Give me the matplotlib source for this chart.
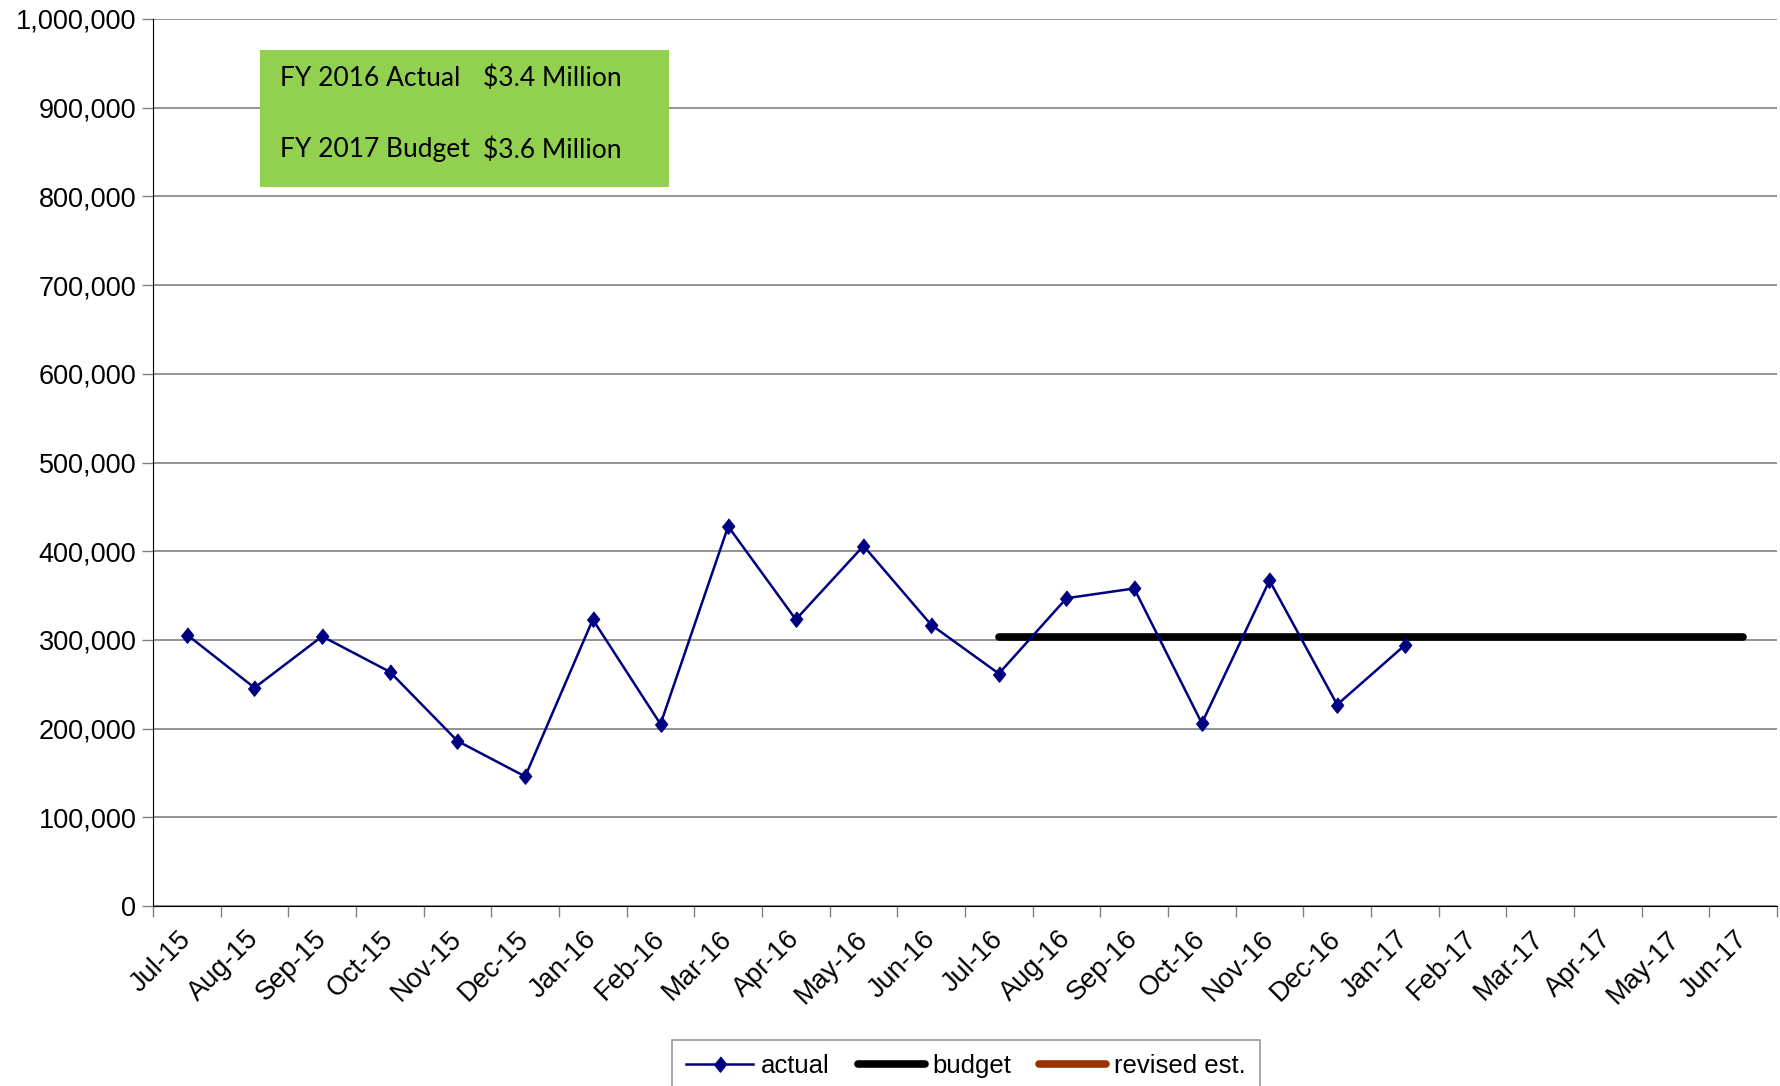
import matplotlib
matplotlib.use("Agg")
import matplotlib.pyplot as plt
import numpy as np

months = ["Jul-15", "Aug-15", "Sep-15", "Oct-15", "Nov-15", "Dec-15",
          "Jan-16", "Feb-16", "Mar-16", "Apr-16", "May-16", "Jun-16",
          "Jul-16", "Aug-16", "Sep-16", "Oct-16", "Nov-16", "Dec-16",
          "Jan-17", "Feb-17", "Mar-17", "Apr-17", "May-17", "Jun-17"]
actual = [306000, 246000, 304000, 264000, 186000, 146000,
          323000, 205000, 428000, 323000, 406000, 317000,
          262000, 347000, 358000, 206000, 367000, 227000,
          294000]
budget_start = 12
budget = [303000] * 12
revised = []

plt.rcParams['font.family'] = ['Liberation Sans', 'DejaVu Sans']

fig = plt.figure(figsize=(17.8, 10.86), dpi=100)
ax = fig.add_axes([153/1780, 1-906/1086, (1777-153)/1780, (906-19)/1086])

x = np.arange(len(months))
ax.plot(x[:len(actual)], actual, color='#000080', lw=1.8,
        marker=[(0, 1), (0.8, 0), (0, -1), (-0.8, 0)], markersize=11,
        label='actual', zorder=4)
ax.plot(x[budget_start:budget_start+len(budget)], budget, color='black', lw=5.5,
        solid_capstyle='round', label='budget', zorder=3)
ax.plot(x[:len(revised)], revised, color='#993300', lw=5.5,
        solid_capstyle='round', label='revised est.')

ax.set_xlim(-0.5, len(months)-0.5)
ax.set_ylim(0, 1000000)
ax.set_yticks(np.arange(0, 1000001, 100000))
ax.set_yticklabels([f"{v:,}" for v in range(0, 1000001, 100000)], fontsize=19.5)
ax.yaxis.grid(True, color='#808080', lw=1.2)
ax.set_axisbelow(True)
ax.tick_params(axis='y', length=8, width=1, color='#808080', pad=4)

ax.set_xticks(x)
ax.set_xticklabels(months, rotation=45, ha='right', va='center',
                   rotation_mode='anchor', fontsize=19.5)
ax.tick_params(axis='x', which='major', length=0, pad=21)
ax.set_xticks(np.arange(-0.5, len(months)), minor=True)
ax.tick_params(axis='x', which='minor', length=8, width=1, color='#808080')

for s in ['top', 'right']:
    ax.spines[s].set_visible(False)
ax.spines['left'].set_color('black')
ax.spines['bottom'].set_color('black')

# green info box
fig.patches.append(plt.Rectangle((260/1780, 1-187/1086), (669-260)/1780, (187-50)/1086,
                                 transform=fig.transFigure, facecolor='#92D050',
                                 edgecolor='none', zorder=5))
box_font = ['Lato', 'DejaVu Sans']
for yy, a, b in [(78, "FY 2016 Actual", "$3.4 Million"), (150, "FY 2017 Budget", "$3.6 Million")]:
    fig.text(280/1780, 1-yy/1086, a, fontsize=19, va='center', ha='left', family=box_font, zorder=6)
    fig.text(483/1780, 1-yy/1086, b, fontsize=19, va='center', ha='left', family=box_font, zorder=6)

leg = fig.legend(loc='upper center', bbox_to_anchor=(966/1780, 1-1040/1086), ncol=3,
                 fontsize=18.5, frameon=True, fancybox=False, handlelength=2.6,
                 columnspacing=1.1, handletextpad=0.3, borderpad=0.55,
                 borderaxespad=0)
leg.get_frame().set_edgecolor('#808080')
leg.get_frame().set_linewidth(1.2)

fig.savefig("out.png", dpi=100)
